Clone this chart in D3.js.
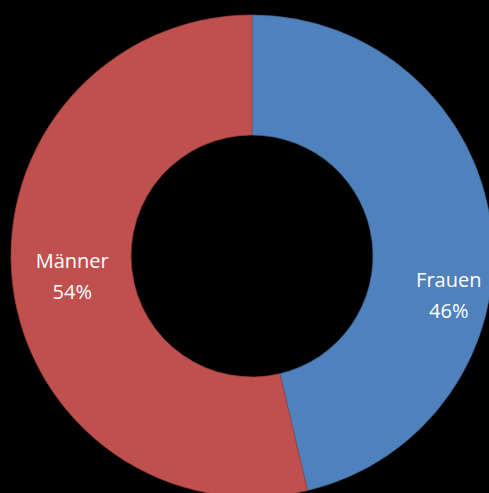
<!DOCTYPE html>
<html>
<head>
<meta charset="utf-8">
<script src="https://cdn.jsdelivr.net/npm/d3@7"></script>
<style>
  html, body { margin: 0; padding: 0; background: #000; overflow: hidden; }
  text { font-family: 'Open Sans', 'Lato', sans-serif; }
</style>
</head>
<body>
<script>
// Data (shares, labels show rounded values)
const categories = ['Frauen', 'Männer'];
const shares = [46.3, 53.7];
const colors = ['#4f81bd', '#c0504d'];
// label nudges relative to the arc centroid (px)
const labelShift = [[17, 61], [0, 0]];

const width = 489;
const height = 493;
const cx = 252;
const cy = 256;
const outerR = 241;
const innerR = 121;

const svg = d3
  .select('body')
  .append('svg')
  .attr('width', width)
  .attr('height', height);

svg.append('rect').attr('width', width).attr('height', height).attr('fill', '#000');

const data = categories.map((c, i) => ({ name: c, value: shares[i], color: colors[i], shift: labelShift[i] }));

const pie = d3.pie().value((d) => d.value).sort(null);
const arc = d3.arc().innerRadius(innerR).outerRadius(outerR);

const g = svg.append('g').attr('transform', `translate(${cx}, ${cy})`);

const slices = g.selectAll('g.slice').data(pie(data)).enter().append('g').attr('class', 'slice');

slices
  .append('path')
  .attr('d', arc)
  .attr('fill', (d) => d.data.color)
  .attr('stroke', (d) => d3.color(d.data.color).darker(0.6))
  .attr('stroke-width', 0.7);

const labels = slices
  .append('text')
  .attr('transform', (d) => {
    const [x, y] = arc.centroid(d);
    return `translate(${x + d.data.shift[0]}, ${y + d.data.shift[1]})`;
  })
  .attr('text-anchor', 'middle')
  .attr('fill', '#fff')
  .style('font-size', '20px');

labels.append('tspan').attr('x', 0).attr('dy', '-0.45em').text((d) => d.data.name);
labels.append('tspan').attr('x', 0).attr('dy', '1.55em').text((d) => `${Math.round(d.data.value)}%`);
</script>
</body>
</html>
